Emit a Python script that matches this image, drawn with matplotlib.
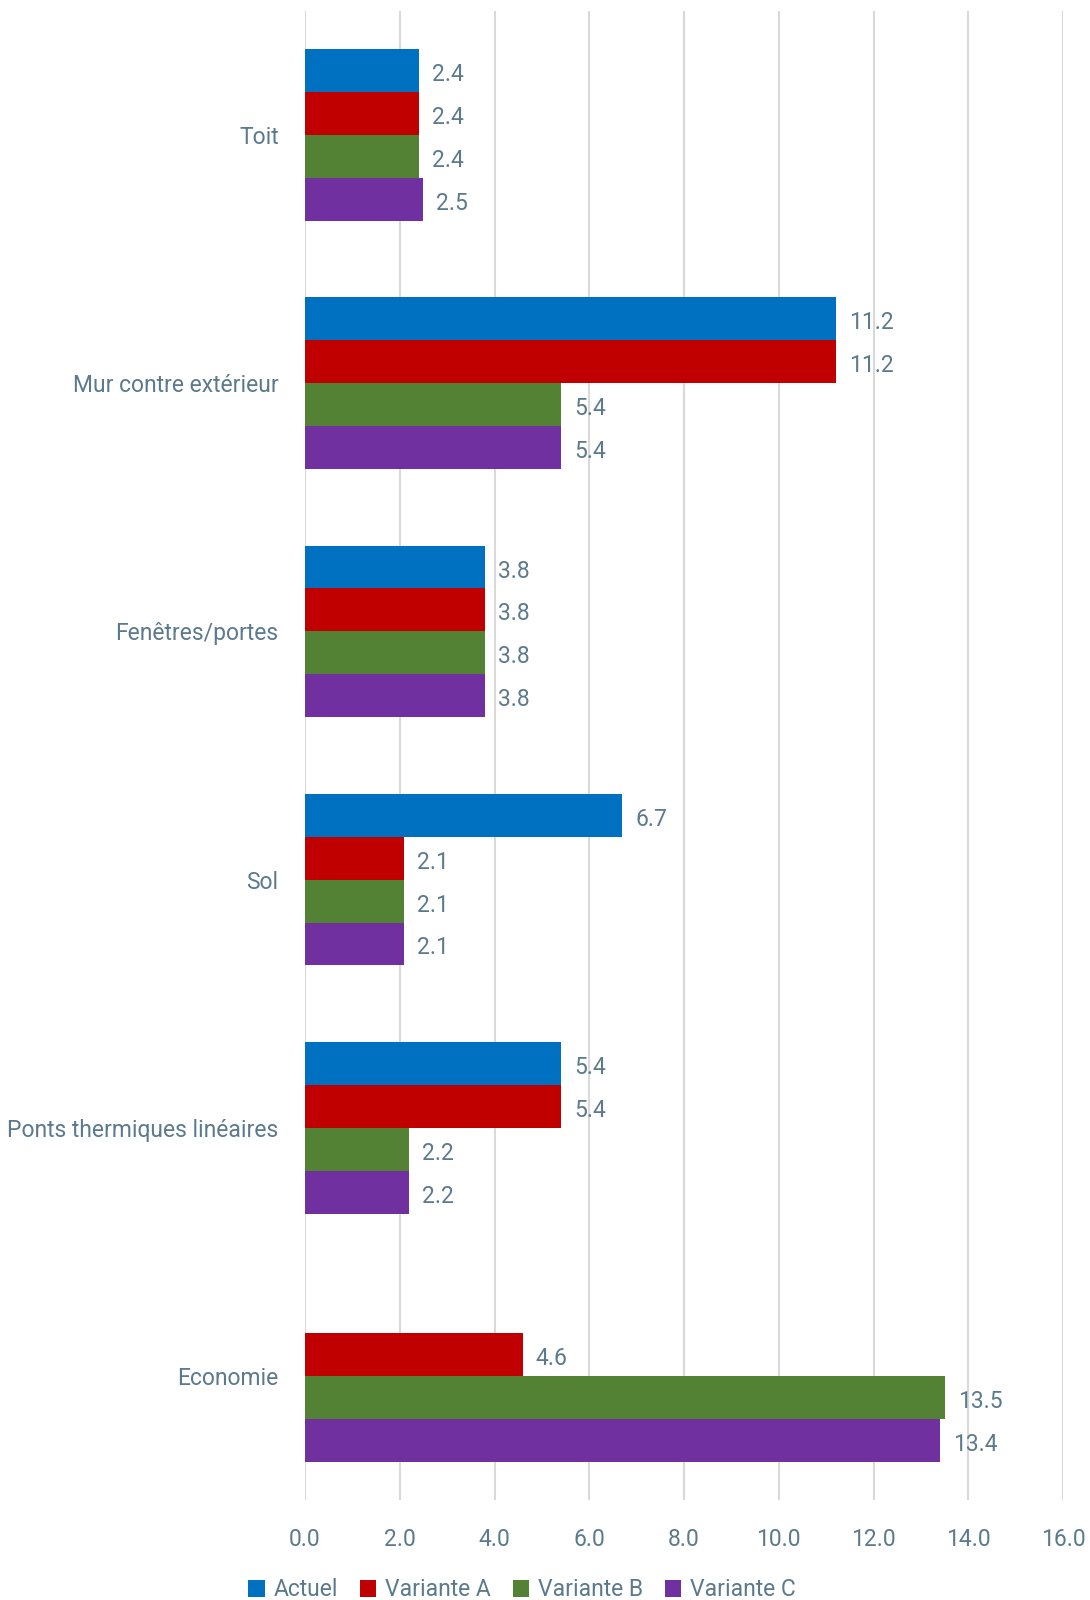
import numpy as np
import matplotlib
matplotlib.use("Agg")
import matplotlib.pyplot as plt
from matplotlib.patches import Patch

plt.rcParams['font.family'] = ['Roboto', 'DejaVu Sans']

categories = ["Toit", "Mur contre extérieur", "Fenêtres/portes", "Sol",
              "Ponts thermiques linéaires", "Economie"]
series_names = ["Actuel", "Variante A", "Variante B", "Variante C"]
actuel = [2.4, 11.2, 3.8, 6.7, 5.4, np.nan]
variante_a = [2.4, 11.2, 3.8, 2.1, 5.4, 4.6]
variante_b = [2.4, 5.4, 3.8, 2.1, 2.2, 13.5]
variante_c = [2.5, 5.4, 3.8, 2.1, 2.2, 13.4]
x_ticks = [0, 2, 4, 6, 8, 10, 12, 14, 16]

colors = ["#0070C0", "#C00000", "#548235", "#7030A0"]
text_color = "#5B7A8E"
grid_color = "#D9D9D9"

fig = plt.figure(figsize=(10.9, 16), dpi=100)
ax = fig.add_axes([305 / 1090, 1 - 1500 / 1600, (1063 - 305) / 1090, (1500 - 11) / 1600])

y = np.arange(len(categories))
bar_h = 0.173
all_series = [actuel, variante_a, variante_b, variante_c]
for i, (vals, col) in enumerate(zip(all_series, colors)):
    pos = y + (i - 1.5) * bar_h
    vals = np.array(vals, dtype=float)
    ax.barh(pos, np.nan_to_num(vals), height=bar_h, color=col, edgecolor="none", zorder=3)
    for p, v in zip(pos, vals):
        if not np.isnan(v):
            ax.annotate(f"{v:.1f}", xy=(v, p), xytext=(13, -4), textcoords="offset pixels",
                        va="center", ha="left", fontsize=16.5, color=text_color)

ax.set_ylim(len(categories) - 0.5, -0.5)
ax.set_xlim(0, 16)
ax.set_yticks(y)
ax.set_yticklabels(categories, fontsize=16.5, color=text_color)
ax.set_xticks(x_ticks)
ax.set_xticklabels([f"{t:.1f}" for t in x_ticks], fontsize=16.5, color=text_color)
ax.tick_params(axis="both", length=0)
ax.tick_params(axis="x", pad=20)
ax.tick_params(axis="y", pad=19)
ax.grid(axis="x", color=grid_color, linewidth=1.5, zorder=0)
for s in ax.spines.values():
    s.set_visible(False)
ax.axvline(0, color=grid_color, linewidth=1.5, zorder=1)

handles = [Patch(facecolor=c, edgecolor="none") for c in colors]
fig.legend(handles, series_names, loc="center", bbox_to_anchor=(522 / 1090, 1 - 1590 / 1600),
           ncol=4, frameon=False, fontsize=16.5, labelcolor=text_color,
           handlelength=0.7, handleheight=0.7, handletextpad=0.4, columnspacing=0.95)

fig.savefig("out.png", dpi=100)
